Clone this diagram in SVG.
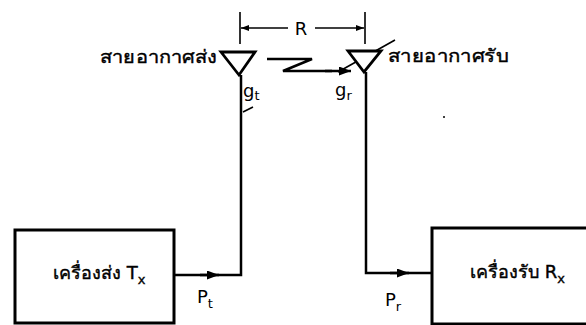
<svg xmlns="http://www.w3.org/2000/svg" width="586" height="325" viewBox="0 0 586 325">
<defs>
<style>
.box{fill:#fff;stroke:#000;stroke-width:3}
.ln{fill:none;stroke:#000;stroke-width:2.5}
.thin{fill:none;stroke:#000;stroke-width:1.6}
.ant{fill:#fff;stroke:#000;stroke-width:2.8;stroke-linejoin:miter}
.t{font-family:"DejaVu Sans","Noto Sans",sans-serif;font-size:18px;fill:#000}
.th{font-family:"DejaVu Sans","Noto Sans",sans-serif;font-size:18px;fill:#000;stroke:#000;stroke-width:0.4}
.s{font-family:"DejaVu Sans","Noto Sans",sans-serif;font-size:13px;fill:#000}
</style>
<marker id="ah" markerWidth="12" markerHeight="9" refX="12" refY="4.5" orient="auto" markerUnits="userSpaceOnUse">
<path d="M0,0 L12,4.5 L0,9 Z" fill="#000"/>
</marker>
<marker id="dim" markerWidth="8" markerHeight="6" refX="8" refY="3" orient="auto" markerUnits="userSpaceOnUse">
<path d="M0,0 L8,3 L0,6 Z" fill="#000"/>
</marker>
</defs>
<rect width="586" height="325" fill="#fff"/>

<g id="connectors">
<path class="ln" d="M174,275 H241 V75"/>
<path class="ln" d="M200,275 H219" marker-end="url(#ah)"/>
<path class="ln" d="M366,72 V273 H432"/>
<path class="ln" d="M390,273 H409" marker-end="url(#ah)"/>
<path class="ln" d="M267,59 H312 L283,71 H332"/>
<path class="ln" d="M325,71 H351" marker-end="url(#ah)"/>
<path class="thin" d="M395,40 L338,72"/>
<path class="thin" d="M243,112 L253,107"/>
<path class="thin" d="M240,12 V44 M365,12 V44"/>
<path class="thin" d="M288,28 H241" marker-end="url(#dim)"/>
<path class="thin" d="M315,28 H364" marker-end="url(#dim)"/>
</g>

<g id="tx-antenna">
<path class="ant" d="M221,52 H255 L239,75 Z"/>
<text class="th" x="100" y="63" textLength="117" lengthAdjust="spacingAndGlyphs">สายอากาศส่ง</text>
<text class="t" x="243" y="97" font-size="19">g<tspan class="s" dy="3">t</tspan></text>
</g>

<g id="rx-antenna">
<path class="ant" d="M348,51 H381 L364,72 Z"/>
<text class="th" x="388" y="62" textLength="120" lengthAdjust="spacingAndGlyphs">สายอากาศรับ</text>
<text class="t" x="335" y="96" font-size="19">g<tspan class="s" dy="4">r</tspan></text>
</g>

<g id="range">
<text class="t" x="301" y="35" text-anchor="middle">R</text>
</g>

<g id="transmitter">
<rect class="box" x="15" y="230" width="159" height="93"/>
<text class="th" x="53" y="279">เครื่องส่ง T<tspan class="s" dy="5">x</tspan></text>
<text class="t" x="197" y="303" font-size="19">P<tspan class="s" dy="5">t</tspan></text>
</g>

<g id="receiver">
<rect class="box" x="432" y="228" width="160" height="96"/>
<text class="th" x="470" y="278">เครื่องรับ R<tspan class="s" dy="5">x</tspan></text>
<text class="t" x="385" y="306" font-size="19">P<tspan class="s" dy="5">r</tspan></text>
</g>

<circle cx="444" cy="117" r="1" fill="#000"/>
</svg>
